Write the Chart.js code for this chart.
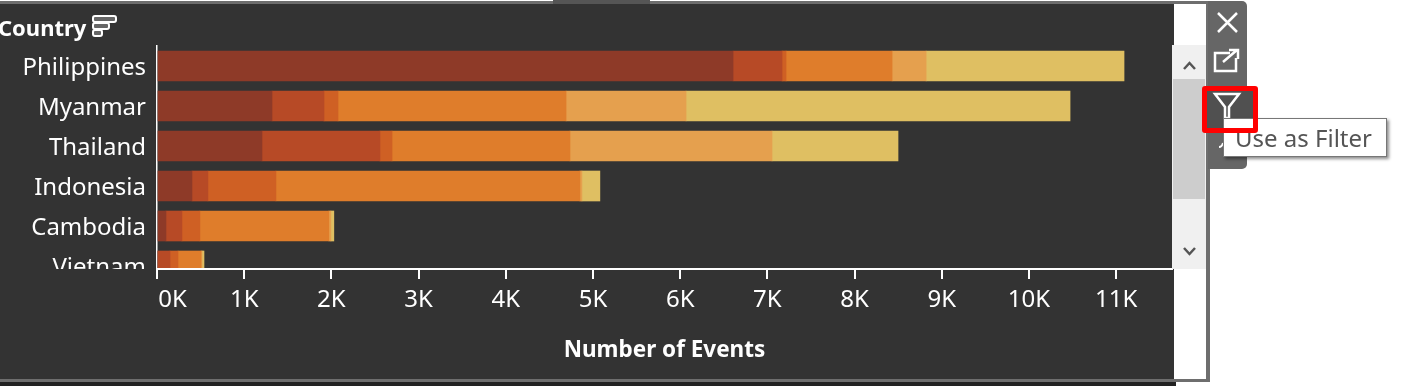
<!DOCTYPE html>
<html>
<head>
<meta charset="utf-8">
<title>Number of Events by Country</title>
<script src="https://cdn.jsdelivr.net/npm/chart.js@4"></script>
<style>
    html, body { margin: 0; padding: 0; background: #fff; overflow: hidden; }
    #page { position: relative; width: 1417px; height: 386px; overflow: hidden; font-family: "Noto Sans", sans-serif; }
    #page div, #page svg { position: absolute; }
    #panel { left: 0; top: 4px; width: 1174px; height: 375px; background: #333; }
    #panel canvas { position: absolute; left: 0; top: 0; }
    #country { left: -2px; top: 11px; color: #fff; font-weight: 700; font-size: 22px; line-height: 32px; }
    #tooltip { left: 1223px; top: 118px; width: 162px; height: 37px; background: #fff; border: 1px solid #777;
        box-shadow: 2px 2px 3px rgba(0, 0, 0, .45); color: #555; font-size: 24px; line-height: 37px; text-indent: 11px; white-space: nowrap; }
    #redbox { left: 1202px; top: 86px; width: 46px; height: 37px; border: 5px solid #f00; border-radius: 3px; }
</style>
</head>
<body>
<div id="page">
    <div style="left:0;top:1px;width:1210px;height:3px;background:#6e6e6e"></div>
    <div style="left:553px;top:0;width:97px;height:4px;background:#555"></div>
    <div style="left:0;top:379px;width:1210px;height:3px;background:#6e6e6e"></div>
    <div style="left:0;top:382px;width:1176px;height:4px;background:#222"></div>
    <div style="left:1206px;top:1px;width:4px;height:381px;background:#6e6e6e"></div>

    <div id="panel"><canvas id="myChart" width="1174" height="375"></canvas></div>

    <div style="left:1172px;top:45px;width:34px;height:224px;background:#f0f0f0"></div>
    <div style="left:1173px;top:79px;width:32px;height:120px;background:#cdcdcd"></div>
    <svg style="left:1172px;top:45px" width="34" height="224" fill="none" stroke="#555" stroke-width="2.5">
        <path d="M12 24 L17.5 18 L23 24"/>
        <path d="M12 203 L17.5 209 L23 203"/>
    </svg>

    <div style="left:1208px;top:1px;width:39px;height:168px;background:#666;border-radius:0 5px 5px 0"></div>
    <div style="left:1207px;top:91px;width:46px;height:37px;background:#505050"></div>
    <svg style="left:1208px;top:0" width="40" height="170" fill="none" stroke="#fff" stroke-width="2.5">
        <path d="M10 13 L29 32 M29 13 L10 32"/>
        <path d="M22 53 H7 V71 H28 V58"/>
        <path d="M15 62 L29 50 M21 50 H30 V59"/>
        <path d="M7 94 H31 L21 107 V118 H17 V107 Z"/>
        <path d="M15 143 Q14 147 11 147" stroke-width="2"/>
    </svg>

    <div id="tooltip">Use as Filter</div>
    <div id="redbox"></div>

    <div id="country" style="z-index:2">Country</div>
    <svg style="left:91px;top:14px;z-index:2" width="27" height="26" fill="#666" stroke="#fff" stroke-width="2">
        <rect x="2" y="2" width="23" height="6" rx="2"/>
        <rect x="2" y="9" width="16" height="6" rx="2"/>
        <rect x="2" y="16" width="9" height="6" rx="2"/>
    </svg>
</div>

<script>
let countries = ["Philippines", "Myanmar", "Thailand", "Indonesia", "Cambodia", "Vietnam"];
let tick_values = [0, 1000, 2000, 3000, 4000, 5000, 6000, 7000, 8000, 9000, 10000, 11000];

// stacked pieces, darkest first
let series_1 = [6606, 1319, 1204, 401, 103, 0];
let series_2 = [562, 596, 1353, 183, 183, 149];
let series_3 = [46, 161, 138, 780, 206, 92];
let series_4 = [1216, 2615, 2041, 3486, 1479, 264];
let series_5 = [390, 1376, 2317, 23, 23, 11];
let series_6 = [2270, 4404, 1445, 206, 34, 23];

let colors = ["#8e3a28", "#b74a26", "#cf6024", "#df7d2b", "#e5a04e", "#dfbf62"];
let all_series = [series_1, series_2, series_3, series_4, series_5, series_6];

// Vietnam row is cut off at the axis, so hide what hangs below it
const cut_labels = {
    id: "cut_labels",
    beforeDatasetsDraw(chart) {
        const ctx = chart.ctx;
        ctx.save();
        ctx.fillStyle = "#333";
        ctx.fillRect(0, chart.chartArea.bottom, chart.chartArea.left, 30);
        ctx.restore();
    },
};

function make_datasets() {
    return all_series.map((values, s) => ({
        label: "Series " + (s + 1),
        data: values.map((v, i) => ({ x: v, y: i })),
        backgroundColor: colors[s],
        borderWidth: 0,
        barThickness: 30,
    }));
}

function plot() {
    const ctx = document.getElementById("myChart").getContext("2d");
    new Chart(ctx, {
        type: "bar",
        data: { datasets: make_datasets() },
        plugins: [cut_labels],
        options: {
            indexAxis: "y",
            responsive: false,
            animation: false,
            layout: { padding: { top: 42, right: 2, left: 0, bottom: 0 } },
            plugins: { legend: { display: false }, tooltip: { enabled: false } },
            scales: {
                x: {
                    type: "linear",
                    stacked: true,
                    min: 0,
                    max: 11640,
                    afterFit: (scale) => { scale.height = 110; },
                    grid: { drawOnChartArea: false, tickColor: "#fff", tickLength: 10, lineWidth: 2, z: 1 },
                    border: { color: "#fff", width: 2, z: 1 },
                    afterBuildTicks: (scale) => { scale.ticks = tick_values.map((v) => ({ value: v })); },
                    ticks: {
                        z: 1,
                        color: "#fff",
                        font: { family: "Noto Sans", size: 24 },
                        maxRotation: 0,
                        autoSkip: false,
                        padding: 7,
                        // first label sits to the right of its tick
                        callback: (v) => (v === 0 ? "\u00a0\u00a0\u00a0\u00a0\u00a00K" : v / 1000 + "K"),
                    },
                    title: {
                        display: true,
                        text: "Number of Events",
                        color: "#fff",
                        font: { family: "Noto Sans", size: 22.5, weight: "bold" },
                        padding: { top: 16, bottom: 15 },
                    },
                },
                y: {
                    type: "linear",
                    stacked: true,
                    reverse: true,
                    offset: false,
                    min: -0.5,
                    max: 5.075,
                    afterFit: (scale) => { scale.width = 157; },
                    grid: { display: false, offset: false },
                    border: { color: "#fff", width: 1.5 },
                    afterBuildTicks: (scale) => { scale.ticks = countries.map((c, i) => ({ value: i })); },
                    ticks: {
                        color: "#fff",
                        font: { family: "Noto Sans", size: 24 },
                        padding: 3,
                        labelOffset: 2,
                        autoSkip: false,
                        callback: (v) => countries[v],
                    },
                },
            },
        },
    });
}

plot();
</script>
</body>
</html>
